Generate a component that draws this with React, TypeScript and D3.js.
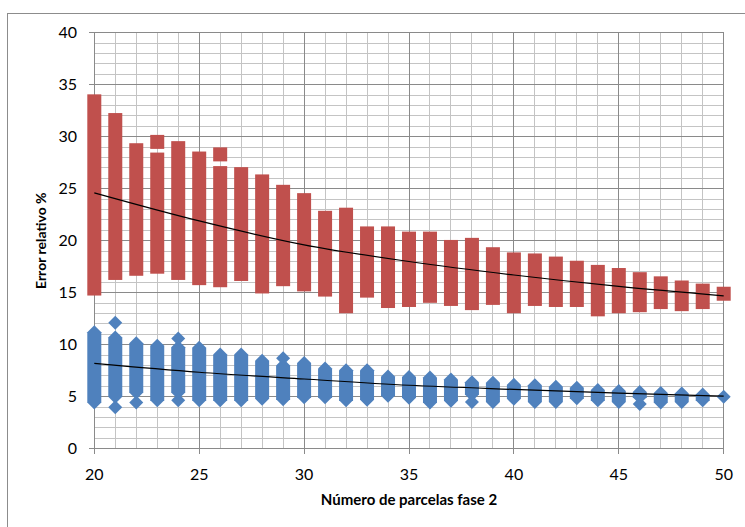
import React from 'react';
import * as d3 from 'd3';

// x = número de parcelas fase 2
const xValues = [20, 21, 22, 23, 24, 25, 26, 27, 28, 29, 30, 31, 32, 33, 34, 35, 36, 37, 38, 39, 40, 41, 42, 43, 44, 45, 46, 47, 48, 49, 50];

// red series (squares): min / max of the stacked column at each x
const redLow = [15.4, 16.9, 17.3, 17.5, 16.9, 16.4, 16.2, 16.8, 15.6, 16.3, 15.8, 15.3, 13.7, 15.2, 14.2, 14.3, 14.7, 14.4, 14.0, 14.5, 13.7, 14.4, 14.3, 14.3, 13.4, 13.7, 13.8, 14.1, 13.9, 14.1, 14.9];
const redHigh = [33.4, 31.6, 28.7, 27.8, 28.9, 27.9, 26.5, 26.4, 25.7, 24.7, 23.9, 22.2, 22.5, 20.7, 20.7, 20.2, 20.2, 19.4, 19.6, 18.7, 18.2, 18.1, 17.8, 17.4, 17.0, 16.7, 16.3, 15.9, 15.5, 15.2, 14.9];
const redExtraX = [23, 26];
const redExtraY = [29.5, 28.3];

// blue series (diamonds)
const blueLow = [4.45, 5.0, 5.4, 4.65, 5.4, 4.65, 4.65, 4.65, 4.8, 4.75, 4.95, 4.95, 4.65, 4.7, 5.1, 4.9, 4.45, 4.6, 5.2, 4.5, 4.8, 4.5, 4.5, 4.85, 4.65, 4.5, 4.95, 4.45, 4.5, 4.65, 5.0];
const blueHigh = [11.2, 10.7, 10.15, 9.9, 9.75, 9.7, 9.05, 9.05, 8.45, 8.0, 8.25, 7.7, 7.55, 7.55, 6.95, 6.9, 6.85, 6.65, 6.4, 6.35, 6.15, 6.1, 5.95, 5.85, 5.65, 5.55, 5.45, 5.35, 5.3, 5.2, 5.0];
const blueExtraX = [21, 21, 22, 24, 24, 29, 38, 46];
const blueExtraY = [3.98, 12.1, 4.45, 4.65, 10.6, 8.7, 4.5, 4.3];

// trend lines
const trendX = [20, 25, 30, 35, 40, 45, 50];
const redTrend = [24.6, 21.9, 19.6, 18.0, 16.7, 15.6, 14.7];
const blueTrend = [8.2, 7.35, 6.7, 6.1, 5.7, 5.35, 5.05];

const xTicks = [20, 25, 30, 35, 40, 45, 50];
const yTicks = [0, 5, 10, 15, 20, 25, 30, 35, 40];

const W = 745;
const H = 527;
const RED = '#C0504D';
const BLUE = '#4F81BD';
const FONT = 'Lato, "Open Sans", sans-serif';

export default function App() {
  const x = d3.scaleLinear().domain([20, 50]).range([94.3, 723.7]);
  const y = d3.scaleLinear().domain([0, 40]).range([448.7, 32.7]);
  const m = 7; // half marker size

  const minorX = d3.range(20, 51, 1);
  const minorY = d3.range(0, 41, 1);

  const diamond = (cx: number, cy: number) =>
    `M${cx},${cy - m} L${cx + m},${cy} L${cx},${cy + m} L${cx - m},${cy} Z`;

  const column = (cx: number, lo: number, hi: number) => {
    const t = y(hi);
    const b = y(lo);
    return `M${cx},${t - m} L${cx + m},${t} L${cx + m},${b} L${cx},${b + m} L${cx - m},${b} L${cx - m},${t} Z`;
  };

  const line = d3.line<number>()
    .x((d, i) => x(trendX[i]))
    .y(d => y(d))
    .curve(d3.curveMonotoneX);

  return (
    <svg width={W} height={H} style={{ position: 'absolute', left: 0, top: 0, background: '#fff' }}>
      <rect x={7.5} y={13.5} width={W} height={H} fill="#fff" stroke="#8c8c8c" />

      {/* grid */}
      <g shapeRendering="crispEdges">
        {minorY.filter(v => v % 5 !== 0).map(v => (
          <line key={'hy' + v} x1={x(20)} x2={x(50)} y1={y(v)} y2={y(v)} stroke="#c4c4c4" />
        ))}
        {minorX.filter(v => v % 5 !== 0).map(v => (
          <line key={'vx' + v} x1={x(v)} x2={x(v)} y1={y(0)} y2={y(40)} stroke="#c4c4c4" />
        ))}
        {yTicks.map(v => (
          <line key={'Hy' + v} x1={x(20) - 5} x2={x(50)} y1={y(v)} y2={y(v)} stroke="#8a8a8a" />
        ))}
        {xTicks.map(v => (
          <line key={'Vx' + v} x1={x(v)} x2={x(v)} y1={y(0) + 5} y2={y(40)} stroke="#8a8a8a" />
        ))}
      </g>

      {/* red columns */}
      <g fill={RED}>
        {xValues.map((v, i) => (
          <rect key={'r' + v} x={x(v) - m} y={y(redHigh[i]) - m} width={2 * m}
            height={y(redLow[i]) - y(redHigh[i]) + 2 * m} />
        ))}
        {redExtraX.map((v, i) => (
          <rect key={'re' + i} x={x(v) - m} y={y(redExtraY[i]) - m} width={2 * m} height={2 * m} />
        ))}
      </g>

      {/* blue columns */}
      <g fill={BLUE}>
        {xValues.map((v, i) => (
          <path key={'b' + v} d={column(x(v), blueLow[i], blueHigh[i])} />
        ))}
        {blueExtraX.map((v, i) => (
          <path key={'be' + i} d={diamond(x(v), y(blueExtraY[i]))} />
        ))}
      </g>

      {/* trend lines */}
      <path d={line(redTrend) || ''} fill="none" stroke="#000" strokeWidth={1.2} />
      <path d={line(blueTrend) || ''} fill="none" stroke="#000" strokeWidth={1.2} />

      {/* tick labels */}
      <g fontFamily={FONT} fontSize={16} fill="#000">
        {yTicks.map(v => (
          <text key={'ty' + v} x={77} y={y(v)} dy="0.35em" textAnchor="end">{v}</text>
        ))}
        {xTicks.map(v => (
          <text key={'tx' + v} x={x(v)} y={480} textAnchor="middle">{v}</text>
        ))}
      </g>

      <text x={(x(20) + x(50)) / 2} y={505} textAnchor="middle" fontFamily={FONT}
        fontSize={15} fontWeight="bold">Número de parcelas fase 2</text>
      <text transform={`translate(46,${(y(0) + y(40)) / 2}) rotate(-90)`} textAnchor="middle"
        fontFamily={FONT} fontSize={14} fontWeight="bold">Error relativo %</text>
    </svg>
  );
}
